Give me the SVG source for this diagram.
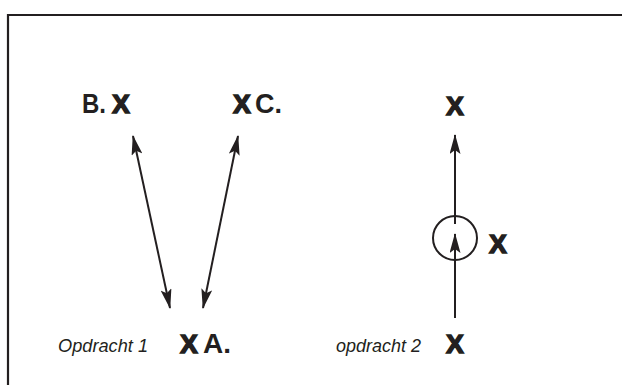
<svg xmlns="http://www.w3.org/2000/svg" width="622" height="385" viewBox="0 0 622 385">
  <style>
    .frame { fill: none; stroke: #231f20; stroke-width: 2.2; }
    .line { fill: none; stroke: #231f20; stroke-width: 2; }
    .mark { font-family: "Liberation Sans", Arial, sans-serif; font-weight: 700; font-size: 26px; fill: #231f20; stroke: #231f20; stroke-width: 1.6; text-anchor: middle; }
    .lbl { font-family: "Liberation Sans", Arial, sans-serif; font-weight: 700; font-size: 27px; fill: #231f20; }
    .cap { font-family: "Liberation Sans", Arial, sans-serif; font-style: italic; font-size: 19px; fill: #231f20; }
  </style>
  <defs>
    <marker id="head" viewBox="0 0 20 11" refX="19" refY="5.5" markerWidth="20" markerHeight="11" markerUnits="userSpaceOnUse" orient="auto-start-reverse">
      <path d="M0,0 L20,5.5 L0,11 L4,5.5 Z" fill="#231f20"/>
    </marker>
  </defs>

  <!-- outer frame, open to the right and bottom -->
  <path class="frame" d="M8,385 V15 H622"/>

  <!-- connectors -->
  <g id="connectors">
    <line class="line" x1="170" y1="308" x2="133" y2="136" marker-start="url(#head)" marker-end="url(#head)"/>
    <line class="line" x1="203" y1="308" x2="238" y2="136" marker-start="url(#head)" marker-end="url(#head)"/>
    <line class="line" x1="455" y1="224" x2="455" y2="135" marker-end="url(#head)"/>
    <line class="line" x1="455" y1="318" x2="455" y2="234" marker-end="url(#head)"/>
  </g>

  <!-- exercise 1 -->
  <g id="node-b">
    <text class="lbl" x="82" y="113" textLength="24" lengthAdjust="spacingAndGlyphs">B.</text>
    <text class="mark" x="121" y="113">X</text>
  </g>
  <g id="node-c">
    <text class="mark" x="242" y="113">X</text>
    <text class="lbl" x="255" y="113" textLength="27" lengthAdjust="spacingAndGlyphs">C.</text>
  </g>
  <g id="node-a">
    <text class="mark" x="189" y="353">X</text>
    <text class="lbl" x="203" y="353" textLength="28" lengthAdjust="spacingAndGlyphs">A.</text>
  </g>
  <text class="cap" x="58" y="352" textLength="90" lengthAdjust="spacingAndGlyphs">Opdracht 1</text>

  <!-- exercise 2 -->
  <g id="node-top">
    <text class="mark" x="455" y="115">X</text>
  </g>
  <g id="node-mid">
    <circle class="line" cx="455" cy="238" r="22"/>
    <text class="mark" x="498" y="253">X</text>
  </g>
  <g id="node-bottom">
    <text class="mark" x="455" y="353">X</text>
  </g>
  <text class="cap" x="336" y="352" textLength="85" lengthAdjust="spacingAndGlyphs">opdracht 2</text>
</svg>
